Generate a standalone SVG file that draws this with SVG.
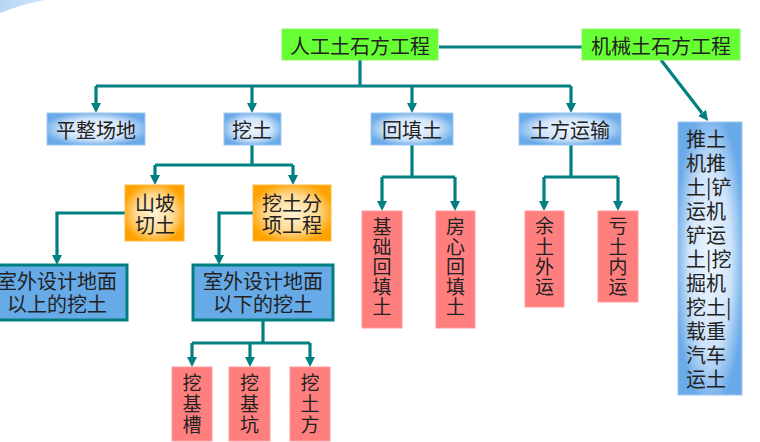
<svg xmlns="http://www.w3.org/2000/svg" width="760" height="442" viewBox="0 0 760 442">
<style>
text{font-family:"Noto Sans CJK SC","Noto Sans",sans-serif;fill:#222;dominant-baseline:central;text-anchor:middle}
.t20{font-size:20px}
.t19{font-size:19px}
.conn path{fill:none;stroke:#008080;stroke-width:3.2}
.green{fill:#66ff33;stroke:#8cf066;stroke-width:1}
.blue{fill:url(#gb);stroke:#9cc8f2;stroke-width:1}
.orange{fill:url(#go);stroke:#ffb840;stroke-width:1}
.pink{fill:#ff7f7f;stroke:#ff9c9c;stroke-width:1}
.solid{fill:#66aae8;stroke:#007f7f;stroke-width:3}
</style>
<defs>
<radialGradient id="gb" cx="0.5" cy="0.5" r="0.55">
<stop offset="0" stop-color="#eef6fe"/>
<stop offset="0.6" stop-color="#cfe4fa"/>
<stop offset="1" stop-color="#6aaae9"/>
</radialGradient>
<radialGradient id="go" cx="0.5" cy="0.5" r="0.55">
<stop offset="0" stop-color="#fff3d6"/>
<stop offset="0.6" stop-color="#ffd890"/>
<stop offset="1" stop-color="#ffa200"/>
</radialGradient>
<linearGradient id="sw" x1="0" y1="0" x2="1" y2="0">
<stop offset="0" stop-color="#b6d6f5"/>
<stop offset="1" stop-color="#cfe4f9"/>
</linearGradient>
<marker id="ah" viewBox="0 0 10 10" refX="0" refY="5" markerWidth="10" markerHeight="10" markerUnits="userSpaceOnUse" orient="auto">
<path d="M0,0 L10,5 L0,10 z" fill="#008080"/>
</marker>
</defs>
<rect width="760" height="442" fill="#ffffff"/>
<path d="M0,0 L44,0 Q20,5 0,13 Z" fill="url(#sw)"/>

<g class="conn">
<path d="M439,47 H582"/>
<path d="M360,60 V86 M96,86 H571"/>
<path d="M96,86 V103" marker-end="url(#ah)"/>
<path d="M252,86 V103" marker-end="url(#ah)"/>
<path d="M412,86 V103" marker-end="url(#ah)"/>
<path d="M571,86 V103" marker-end="url(#ah)"/>
<path d="M661,60 L702,113" marker-end="url(#ah)"/>
<path d="M252,145 V165 M155,165 H293"/>
<path d="M155,165 V175" marker-end="url(#ah)"/>
<path d="M293,165 V175" marker-end="url(#ah)"/>
<path d="M126,213 H57 V255" marker-end="url(#ah)"/>
<path d="M253,213 H219 V255" marker-end="url(#ah)"/>
<path d="M263,320 V343 M192,343 H310"/>
<path d="M192,343 V357" marker-end="url(#ah)"/>
<path d="M250,343 V357" marker-end="url(#ah)"/>
<path d="M310,343 V357" marker-end="url(#ah)"/>
<path d="M412,145 V177 M382,177 H455"/>
<path d="M382,177 V201" marker-end="url(#ah)"/>
<path d="M455,177 V201" marker-end="url(#ah)"/>
<path d="M571,145 V177 M544,177 H618"/>
<path d="M544,177 V201" marker-end="url(#ah)"/>
<path d="M618,177 V201" marker-end="url(#ah)"/>
</g>

<g id="n-rengong"><rect class="green" x="282" y="29" width="156" height="31"/><text class="t20" x="360" y="45">人工土石方工程</text></g>
<g id="n-jixie"><rect class="green" x="582" y="29" width="158" height="31"/><text class="t20" x="661" y="45">机械土石方工程</text></g>

<g id="n-pingzheng"><rect class="blue" x="47" y="113" width="98" height="32"/><text class="t20" x="96" y="129">平整场地</text></g>
<g id="n-watu"><rect class="blue" x="224" y="113" width="57" height="32"/><text class="t20" x="252" y="129">挖土</text></g>
<g id="n-huitian"><rect class="blue" x="371" y="113" width="82" height="32"/><text class="t20" x="412" y="129">回填土</text></g>
<g id="n-yunshu"><rect class="blue" x="519" y="113" width="102" height="32"/><text class="t20" x="570" y="129">土方运输</text></g>

<g id="n-jixie-list"><rect class="blue" x="678" y="122" width="64" height="273"/>
<g style="text-anchor:start" class="t20">
<text x="686" y="138" style="text-anchor:start">推土</text>
<text x="686" y="162" style="text-anchor:start">机推</text>
<text x="686" y="186" style="text-anchor:start">土|铲</text>
<text x="686" y="210" style="text-anchor:start">运机</text>
<text x="686" y="234" style="text-anchor:start">铲运</text>
<text x="686" y="258" style="text-anchor:start">土|挖</text>
<text x="686" y="282" style="text-anchor:start">掘机</text>
<text x="686" y="306" style="text-anchor:start">挖土|</text>
<text x="686" y="330" style="text-anchor:start">载重</text>
<text x="686" y="354" style="text-anchor:start">汽车</text>
<text x="686" y="378" style="text-anchor:start">运土</text>
</g></g>

<g id="n-shanpo"><rect class="orange" x="125" y="185" width="59" height="56"/><text class="t20" x="155" y="202">山坡</text><text class="t20" x="155" y="224">切土</text></g>
<g id="n-fenxiang"><rect class="orange" x="253" y="185" width="78" height="56"/><text class="t20" x="292" y="202">挖土分</text><text class="t20" x="292" y="224">项工程</text></g>

<g id="n-yishang"><rect class="solid" x="-13" y="265" width="140" height="55"/><text class="t20" x="57" y="280">室外设计地面</text><text class="t20" x="57" y="303">以上的挖土</text></g>
<g id="n-yixia"><rect class="solid" x="193" y="265" width="140" height="55"/><text class="t20" x="263" y="280">室外设计地面</text><text class="t20" x="263" y="303">以下的挖土</text></g>

<g id="n-wajicao"><rect class="pink" x="172" y="367" width="40" height="74"/><text class="t19" x="192" y="381">挖</text><text class="t19" x="192" y="402">基</text><text class="t19" x="192" y="423">槽</text></g>
<g id="n-wajikeng"><rect class="pink" x="229" y="367" width="41" height="74"/><text class="t19" x="249.5" y="381">挖</text><text class="t19" x="249.5" y="402">基</text><text class="t19" x="249.5" y="423">坑</text></g>
<g id="n-watufang"><rect class="pink" x="290" y="367" width="40" height="74"/><text class="t19" x="310" y="381">挖</text><text class="t19" x="310" y="402">土</text><text class="t19" x="310" y="423">方</text></g>

<g id="n-jichu"><rect class="pink" x="362" y="211" width="40" height="117"/><text class="t19" x="382" y="225">基</text><text class="t19" x="382" y="245">础</text><text class="t19" x="382" y="265">回</text><text class="t19" x="382" y="285">填</text><text class="t19" x="382" y="305">土</text></g>
<g id="n-fangxin"><rect class="pink" x="436" y="211" width="39" height="117"/><text class="t19" x="455.5" y="225">房</text><text class="t19" x="455.5" y="245">心</text><text class="t19" x="455.5" y="265">回</text><text class="t19" x="455.5" y="285">填</text><text class="t19" x="455.5" y="305">土</text></g>
<g id="n-yutu"><rect class="pink" x="525" y="211" width="39" height="96"/><text class="t19" x="544.5" y="224">余</text><text class="t19" x="544.5" y="245">土</text><text class="t19" x="544.5" y="265">外</text><text class="t19" x="544.5" y="285">运</text></g>
<g id="n-kuitu"><rect class="pink" x="598" y="211" width="40" height="91"/><text class="t19" x="618" y="224">亏</text><text class="t19" x="618" y="245">土</text><text class="t19" x="618" y="265">内</text><text class="t19" x="618" y="285">运</text></g>
</svg>
